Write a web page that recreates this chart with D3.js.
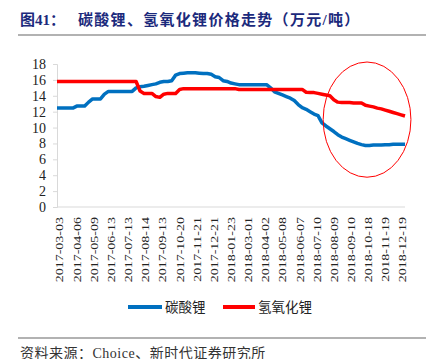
<!DOCTYPE html>
<html>
<head>
<meta charset="utf-8">
<script src="https://cdn.jsdelivr.net/npm/d3@7"></script>
<style>
  body { margin: 0; background: #fff; }
  text { font-family: "Liberation Serif", "Noto Sans CJK SC", serif; }
</style>
</head>
<body>
<script>
// category labels shown under the axis
var dateLabels = ["2017-03-03","2017-04-06","2017-05-09","2017-06-13","2017-07-13","2017-08-14",
  "2017-09-13","2017-10-20","2017-11-21","2017-12-21","2018-01-23","2018-03-01","2018-04-02",
  "2018-05-08","2018-06-07","2018-07-10","2018-08-09","2018-09-10","2018-10-18","2018-11-19","2018-12-19"];

// 碳酸锂 (万元/吨)
var carbonate = [12.45,12.45,12.45,12.45,12.45,12.7,12.7,12.7,13.2,13.6,
  13.6,13.6,14.2,14.55,14.55,14.55,14.55,14.55,14.55,14.55,
  15.0,15.15,15.2,15.3,15.4,15.5,15.7,15.8,15.8,15.9,
  16.6,16.8,16.85,16.9,16.9,16.9,16.85,16.8,16.8,16.7,
  16.4,16.3,15.9,15.8,15.6,15.5,15.4,15.4,15.4,15.4,
  15.4,15.4,15.4,15.4,15.0,14.5,14.3,14.1,13.9,13.7,
  13.4,12.9,12.5,12.3,12.0,11.7,11.5,10.6,10.2,9.85,
  9.5,9.1,8.8,8.6,8.4,8.2,8.0,7.85,7.75,7.75,
  7.8,7.8,7.8,7.85,7.85,7.9,7.9,7.9,7.9];

// 氢氧化锂 (万元/吨)
var hydroxide = [15.8,15.8,15.8,15.8,15.8,15.8,15.8,15.8,15.8,15.8,
  15.8,15.8,15.8,15.8,15.8,15.8,15.8,15.8,15.8,15.8,
  15.8,14.6,14.3,14.3,14.3,13.9,13.8,14.2,14.3,14.3,
  14.3,14.8,14.9,14.9,14.9,14.9,14.9,14.9,14.9,14.9,
  14.9,14.9,14.9,14.9,14.9,14.9,14.8,14.8,14.8,14.8,
  14.8,14.8,14.8,14.8,14.8,14.8,14.8,14.8,14.8,14.8,
  14.8,14.8,14.8,14.45,14.4,14.4,14.3,14.2,14.1,14.0,
  13.5,13.2,13.15,13.15,13.15,13.1,13.1,13.1,12.8,12.7,
  12.6,12.45,12.35,12.2,12.05,11.9,11.75,11.6,11.45];

var yTicks = [0,2,4,6,8,10,12,14,16,18];
var seriesNames = ["碳酸锂","氢氧化锂"];
var seriesColors = ["#0070C0","#FF0000"];

var width = 442, height = 359;
var svg = d3.select("body").append("svg")
  .attr("width", width)
  .attr("height", height);

var x = d3.scaleLinear().domain([0, carbonate.length - 1]).range([57, 405]);
var xLabel = d3.scalePoint().domain(dateLabels).range([60, 403]);
var y = d3.scaleLinear().domain([0, 18]).range([207, 64]);

function drawHeader() {
  svg.append("text")
    .attr("x", 20).attr("y", 25)
    .attr("fill", "#1c2a7c")
    .attr("font-weight", "bold")
    .attr("font-size", 15)
    .text("图41：");
  svg.append("text")
    .attr("x", 78).attr("y", 25)
    .attr("fill", "#1c2a7c")
    .attr("font-weight", "bold")
    .attr("font-size", 15)
    .attr("letter-spacing", 1.3)
    .text("碳酸锂、氢氧化锂价格走势（万元/吨）");
  svg.append("line")
    .attr("x1", 18).attr("x2", 426)
    .attr("y1", 35).attr("y2", 35)
    .attr("stroke", "#999").attr("stroke-width", 1.5);
}

function drawAxes() {
  var yAxis = svg.append("g")
    .attr("transform", "translate(" + x(0) + ",0)")
    .call(d3.axisLeft(y).tickValues(yTicks).tickSize(4).tickPadding(7));
  yAxis.select(".domain").attr("stroke", "#d9d9d9");
  yAxis.selectAll(".tick line").attr("stroke", "#d9d9d9");
  yAxis.selectAll(".tick text")
    .attr("font-family", "Liberation Serif")
    .attr("font-size", 14)
    .attr("fill", "#222");

  svg.append("line")
    .attr("x1", x(0)).attr("x2", x(carbonate.length - 1))
    .attr("y1", y(0)).attr("y2", y(0))
    .attr("stroke", "#d9d9d9");

  svg.append("g").selectAll("text")
    .data(dateLabels)
    .enter()
    .append("text")
    .attr("transform", function(d) {
      return "translate(" + xLabel(d) + ",217) rotate(-90) scale(1,0.78)";
    })
    .attr("text-anchor", "end")
    .attr("dominant-baseline", "central")
    .attr("font-size", 14)
    .attr("fill", "#222")
    .text(function(d) { return d; });
}

function drawLines() {
  var line = d3.line()
    .x(function(d, i) { return x(i); })
    .y(function(d) { return y(d); });
  [carbonate, hydroxide].forEach(function(series, k) {
    svg.append("path")
      .attr("d", line(series))
      .attr("fill", "none")
      .attr("stroke", seriesColors[k])
      .attr("stroke-width", 3.5)
      .attr("stroke-linejoin", "round");
  });

  // highlight ring round the late-2018 drop
  var cx = 78.4, cy = 11.0, rx = 11.1, ry = 7.25;
  svg.append("ellipse")
    .attr("cx", x(cx)).attr("cy", y(cy))
    .attr("rx", x(cx + rx) - x(cx))
    .attr("ry", y(cy - ry) - y(cy))
    .attr("fill", "none")
    .attr("stroke", "#FF0000")
    .attr("stroke-width", 1);
}

function drawLegend() {
  var items = [{x1: 128, x2: 162, tx: 165}, {x1: 223, x2: 255, tx: 258}];
  items.forEach(function(it, k) {
    svg.append("line")
      .attr("x1", it.x1).attr("x2", it.x2)
      .attr("y1", 307).attr("y2", 307)
      .attr("stroke", seriesColors[k]).attr("stroke-width", 4);
    svg.append("text")
      .attr("x", it.tx).attr("y", 307)
      .attr("dominant-baseline", "central")
      .attr("font-family", "Noto Sans CJK SC")
      .attr("font-size", 13.5)
      .attr("fill", "#222")
      .text(seriesNames[k]);
  });
}

function drawFooter() {
  svg.append("line")
    .attr("x1", 18).attr("x2", 426)
    .attr("y1", 338).attr("y2", 338)
    .attr("stroke", "#999").attr("stroke-width", 1.5);
  svg.append("text")
    .attr("x", 20).attr("y", 353)
    .attr("dominant-baseline", "central")
    .attr("font-size", 14)
    .attr("letter-spacing", 0.5)
    .attr("fill", "#333")
    .text("资料来源：Choice、新时代证券研究所");
}

drawHeader();
drawAxes();
drawLines();
drawLegend();
drawFooter();
</script>
</body>
</html>
